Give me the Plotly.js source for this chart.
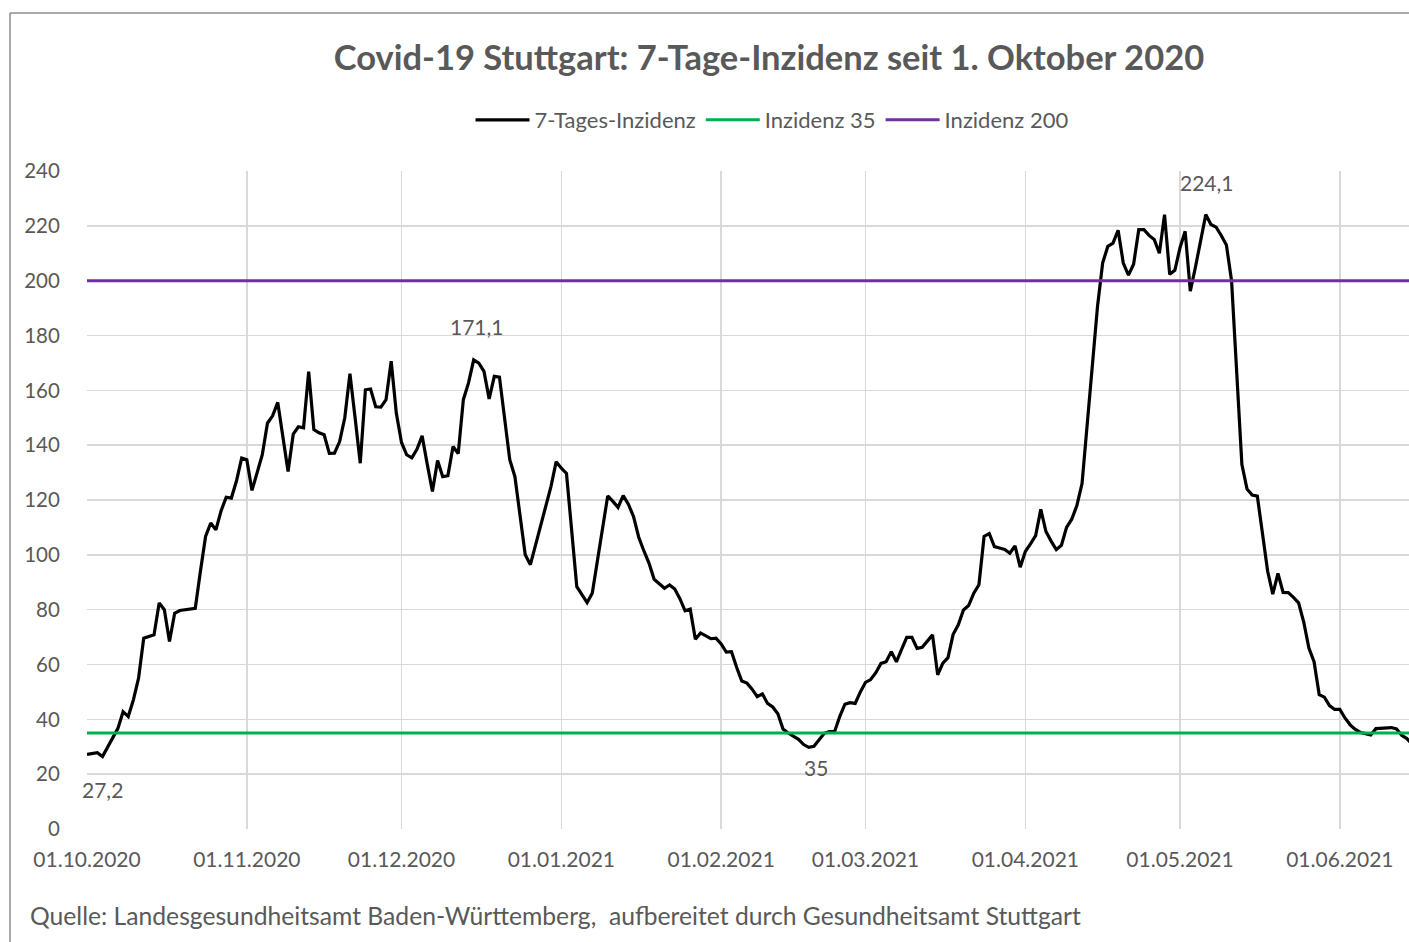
<!DOCTYPE html>
<html>
<head>
<meta charset="utf-8">
<script src="https://cdn.plot.ly/plotly-3.0.1.min.js"></script>
<style>html,body{margin:0;padding:0;background:#fff;}#chart{width:1409px;height:942px;}</style>
</head>
<body>
<div id="chart"></div>
<script>
// 7-Tage-Inzidenz Stuttgart, daily values, one array per month
const startDate = '2020-10-01';
const incOct = [27.2, 27.6, 27.8, 26.4, 30.0, 33.5, 36.7, 42.8, 41.0, 47.1,
                55.0, 69.6, 70.2, 70.8, 82.4, 80.0, 68.4, 78.7, 79.7, 80.0,
                80.2, 80.5, 94.0, 106.7, 111.6, 109.1, 116.0, 121.0, 120.7, 127.0,
                135.3];
const incNov = [134.7, 123.5, 130.0, 136.5, 148.0, 150.7, 155.6, 143.0, 130.4, 144.0,
                146.7, 146.3, 166.8, 145.7, 144.5, 143.8, 137.0, 137.1, 141.3, 150.0,
                166.1, 150.0, 133.4, 160.2, 160.5, 154.0, 153.9, 156.6, 170.6, 151.6];
const incDec = [141.0, 136.5, 135.4, 138.5, 143.4, 133.0, 123.1, 134.4, 128.5, 128.9,
                139.5, 136.9, 156.6, 162.7, 171.1, 169.9, 166.9, 156.9, 165.1, 164.8,
                149.3, 134.7, 128.5, 114.0, 100.0, 96.4, 103.5, 110.3, 117.0, 125.0,
                134.0];
const incJan = [131.6, 129.7, 108.0, 88.4, 85.5, 82.6, 86.0, 98.0, 110.0, 121.5,
                119.5, 117.3, 121.6, 118.5, 114.0, 106.5, 101.5, 97.0, 91.1, 89.5,
                87.8, 89.0, 87.5, 84.0, 79.6, 80.2, 69.2, 71.5, 70.5, 69.4,
                69.6];
const incFeb = [67.5, 64.5, 64.7, 59.0, 54.0, 53.2, 51.0, 48.3, 49.3, 45.8,
                44.5, 42.0, 36.5, 35.0, 33.8, 32.7, 30.8, 29.8, 30.2, 32.5,
                34.9, 35.5, 35.5, 41.0, 45.5, 46.1, 45.8, 50.0];
const incMar = [53.5, 54.5, 57.0, 60.4, 61.0, 64.7, 61.0, 65.5, 69.9, 69.9,
                65.9, 66.3, 68.5, 70.8, 56.2, 60.5, 62.5, 71.0, 74.5, 79.9,
                81.5, 86.0, 89.1, 106.7, 107.8, 103.0, 102.5, 102.0, 100.6, 103.3,
                95.5];
const incApr = [101.2, 104.0, 107.0, 116.6, 108.5, 105.0, 101.9, 103.5, 110.0, 113.0,
                118.0, 126.0, 147.0, 171.2, 190.6, 206.5, 212.5, 213.7, 218.4, 206.4,
                202.0, 206.0, 218.6, 218.6, 216.5, 215.0, 210.0, 224.1, 202.3, 203.8];
const incMay = [212.0, 218.0, 196.2, 205.0, 214.0, 224.1, 220.5, 219.5, 216.5, 213.0,
                200.0, 164.0, 133.0, 124.0, 121.8, 121.4, 108.0, 94.0, 85.7, 93.2,
                86.3, 86.2, 84.5, 82.5, 75.5, 66.0, 61.0, 49.0, 48.1, 45.0,
                43.6];
const incJun = [43.6, 40.5, 38.0, 36.3, 35.2, 34.8, 34.3, 36.6, 36.8, 36.8,
                37.0, 36.5, 34.2, 33.0, 31.0];

const threshold35 = 35;
const threshold200 = 200;

const seriesNames = ['7-Tages-Inzidenz', 'Inzidenz 35', 'Inzidenz 200'];
const seriesColors = ['#000000', '#00B050', '#7030A0'];

const tickDates = ['2020-10-01','2020-11-01','2020-12-01','2021-01-01','2021-02-01',
                   '2021-03-01','2021-04-01','2021-05-01','2021-06-01'];
const tickLabels = ['01.10.2020','01.11.2020','01.12.2020','01.01.2021','01.02.2021',
                    '01.03.2021','01.04.2021','01.05.2021','01.06.2021'];

// labelled points: [series, date]
const labelled = [
  ['inc', '2020-10-01'],
  ['inc', '2020-12-15'],
  ['t35', '2021-02-19'],
  ['inc', '2021-05-06']
];

const titleText = 'Covid-19 Stuttgart: 7-Tage-Inzidenz seit 1. Oktober 2020';
const sourceText = 'Quelle: Landesgesundheitsamt Baden-Württemberg,  aufbereitet durch Gesundheitsamt Stuttgart';

// build dates
const incidence = [].concat(incOct, incNov, incDec, incJan, incFeb, incMar, incApr, incMay, incJun);
function addDays(s, n) {
  const d = new Date(s + 'T00:00:00Z');
  d.setUTCDate(d.getUTCDate() + n);
  return d.toISOString().slice(0, 10);
}
const dates = incidence.map((_, i) => addDays(startDate, i));
const line35 = dates.map(() => threshold35);
const line200 = dates.map(() => threshold200);

const FONT = 'Lato, "Open Sans", sans-serif';
const GRAY = '#595959';

const traces = [
  {x: dates, y: incidence, name: seriesNames[0], type: 'scatter', mode: 'lines',
   line: {color: seriesColors[0], width: 3.2}},
  {x: dates, y: line35, name: seriesNames[1], type: 'scatter', mode: 'lines',
   line: {color: seriesColors[1], width: 3}},
  {x: dates, y: line200, name: seriesNames[2], type: 'scatter', mode: 'lines',
   line: {color: seriesColors[2], width: 3}}
];

function fmt(v) { return String(v).replace('.', ','); }
const shifts = [[15, -35], [3, 33], [2, -34], [1, 32]];
const annotations = labelled.map((l, k) => {
  const idx = dates.indexOf(l[1]);
  const val = l[0] === 'inc' ? incidence[idx] : line35[idx];
  return {x: dates[idx], y: val, xref: 'x', yref: 'y', text: fmt(val), showarrow: false,
          xshift: shifts[k][0], yshift: shifts[k][1], yanchor: 'middle',
          font: {family: FONT, size: 21, color: GRAY}};
});
// source note
const W = 1409, H = 942, L = 87, R = 0, T = 171, B = 113;
const pw = W - L - R, ph = H - T - B;
const px = v => (v - L) / pw;
const py = v => (H - B - v) / ph;
annotations.push({xref: 'paper', yref: 'paper', x: px(28), y: py(915), xanchor: 'left', yanchor: 'middle',
  text: sourceText, showarrow: false, font: {family: FONT, size: 24.7, color: GRAY}});

const layout = {
  width: W, height: H,
  margin: {l: L, r: R, t: T, b: B, pad: 0},
  paper_bgcolor: '#ffffff', plot_bgcolor: '#ffffff',
  title: {text: '<b>' + titleText + '</b>', x: 769 / W, xanchor: 'center', y: 1 - 58 / H, yanchor: 'middle',
          font: {family: FONT, size: 34.5, color: GRAY}},
  showlegend: true,
  legend: {orientation: 'h', x: px(772), xanchor: 'center', y: py(120), yanchor: 'middle',
           font: {family: FONT, size: 22, color: GRAY}, bgcolor: 'rgba(0,0,0,0)', itemwidth: 54},
  xaxis: {type: 'date', range: ['2020-10-01', '2021-06-14 10:00'],
          tickmode: 'array', tickvals: tickDates, ticktext: tickLabels,
          showgrid: true, gridcolor: '#d9d9d9', gridwidth: 1.5,
          ticks: 'outside', ticklen: 12, tickcolor: 'rgba(0,0,0,0)',
          tickfont: {family: FONT, size: 21, color: GRAY},
          showline: false, zeroline: false, fixedrange: true},
  yaxis: {range: [0, 240], tick0: 0, dtick: 20,
          showgrid: true, gridcolor: '#d9d9d9', gridwidth: 1.5,
          ticks: 'outside', ticklen: 22, tickcolor: 'rgba(0,0,0,0)',
          tickfont: {family: FONT, size: 20.5, color: GRAY},
          showline: false, zeroline: false, fixedrange: true},
  shapes: [
    {type: 'line', xref: 'paper', yref: 'paper', x0: px(10), x1: px(1412), y0: py(13), y1: py(13),
     line: {color: '#8c8c8c', width: 1.5}},
    {type: 'line', xref: 'paper', yref: 'paper', x0: px(10), x1: px(10), y0: py(13), y1: py(945),
     line: {color: '#8c8c8c', width: 1.5}}
  ],
  annotations: annotations
};

Plotly.newPlot('chart', traces, layout, {displayModeBar: false, staticPlot: true});
</script>
</body>
</html>
